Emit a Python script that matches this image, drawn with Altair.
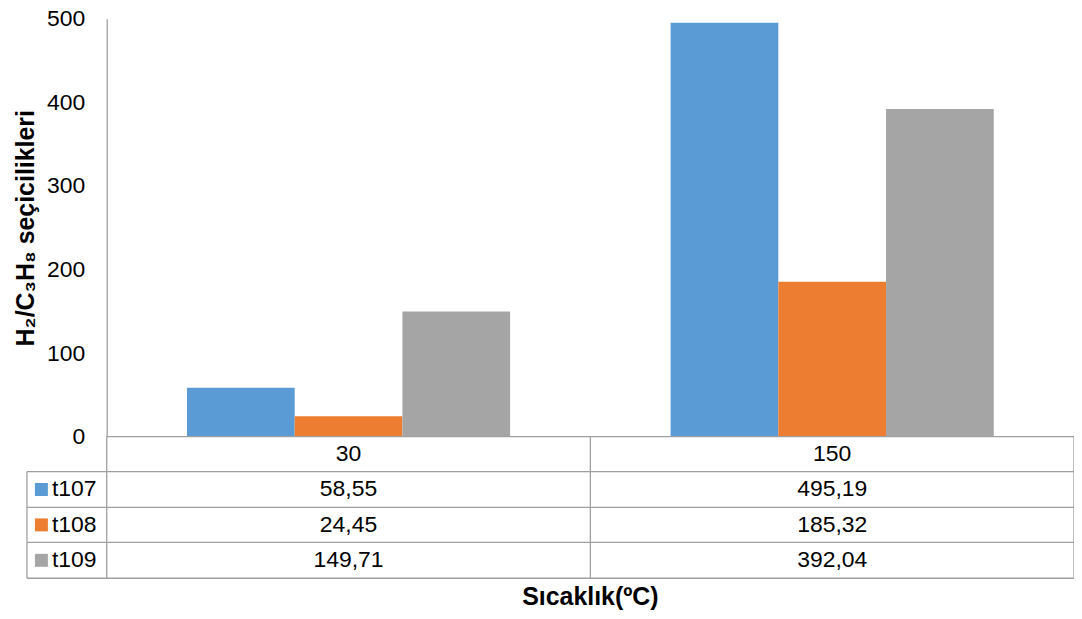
import altair as alt
import pandas as pd

# ---- data ----
categories = ["30", "150"]
series = ["t107", "t108", "t109"]
t107 = [58.55, 495.19]
t108 = [24.45, 185.32]
t109 = [149.71, 392.04]
colors = ["#5B9BD5", "#ED7D31", "#A5A5A5"]
y_ticks = [0, 100, 200, 300, 400, 500]

values = {"t107": t107, "t108": t108, "t109": t109}
rows = []
for s in series:
    for c, v in zip(categories, values[s]):
        rows.append({"cat": c, "series": s, "value": v,
                     "label": f"{v:.2f}".replace(".", ",")})
df = pd.DataFrame(rows)
hdr = pd.DataFrame({"cat": categories, "row": ["hdr"] * len(categories), "label": categories})
df_rows = df.rename(columns={"series": "row"})
legend_df = pd.DataFrame({"row": series, "series": series})

W, H = 970, 419
FONT = "Liberation Sans"
LINE = "#A0A0A0"
LW = 1.3
FS = 23

row_domain = ["hdr"] + series
row_scale = alt.Scale(type="point", domain=row_domain, range=[436.5, 543], padding=0)

xscale = alt.Scale(domain=categories, paddingInner=0, paddingOuter=0)
cscale = alt.Scale(domain=series, range=colors)

bars = alt.Chart(df).mark_bar().encode(
    x=alt.X("cat:N", sort=categories, scale=xscale, axis=None),
    xOffset=alt.XOffset("series:N", sort=series,
                        scale=alt.Scale(paddingInner=0, paddingOuter=0.745)),
    y=alt.Y("value:Q", scale=alt.Scale(domain=[0, 500], nice=False),
            axis=alt.Axis(values=y_ticks, ticks=False, grid=False,
                          domainColor=LINE, domainWidth=LW,
                          labelFontSize=FS, labelColor="#000000", labelPadding=22,
                          title="H₂/C₃H₈ seçicilikleri", titleFontSize=25,
                          titleFontWeight="bold", titleColor="#000000",
                          titlePadding=8)),
    color=alt.Color("series:N", scale=cscale, legend=None),
)

hdr_text = alt.Chart(hdr).mark_text(fontSize=FS, color="#000000", baseline="middle").encode(
    x=alt.X("cat:N", sort=categories, scale=xscale, axis=None),
    y=alt.Y("row:N", scale=row_scale, axis=None),
    text="label:N",
)

cell_text = alt.Chart(df_rows).mark_text(fontSize=FS, color="#000000", baseline="middle").encode(
    x=alt.X("cat:N", sort=categories, scale=xscale, axis=None),
    y=alt.Y("row:N", scale=row_scale, axis=None),
    text="label:N",
)

leg_sq = alt.Chart(legend_df).mark_square(size=169, opacity=1).encode(
    x=alt.value(-65.5),
    y=alt.Y("row:N", scale=row_scale, axis=None),
    color=alt.Color("series:N", scale=cscale, legend=None),
)

leg_text = alt.Chart(legend_df).mark_text(fontSize=FS, color="#000000", align="left",
                                          baseline="middle").encode(
    x=alt.value(-55),
    y=alt.Y("row:N", scale=row_scale, axis=None),
    text="row:N",
)

def hline(y, x1, x2):
    return alt.Chart().mark_rule(color=LINE, strokeWidth=LW).encode(
        x=alt.value(x1), x2=alt.value(x2), y=alt.value(y))

def vline(x, y1, y2):
    return alt.Chart().mark_rule(color=LINE, strokeWidth=LW).encode(
        x=alt.value(x), y=alt.value(y1), y2=alt.value(y2))

lines = [
    hline(H, 0, W),
    hline(454, -80, W),
    hline(490, -80, W),
    hline(525, -80, W),
    hline(561, -80, W),
    vline(-80, 454, 561),
    vline(0, H, 561),
    vline(485, H, 561),
    vline(W, H, 561),
]

xtitle = alt.Chart().mark_text(text="Sıcaklık(ºC)", fontSize=25, fontWeight="bold",
                               color="#000000", baseline="middle").encode(
    x=alt.value(W / 2), y=alt.value(580))

chart = alt.layer(
    bars, *lines, hdr_text, cell_text, leg_sq, leg_text, xtitle
).resolve_scale(y="independent").properties(
    width=W, height=H,
    autosize=alt.AutoSizeParams(type="none"),
    padding={"left": 99, "top": 10, "right": 0, "bottom": 174},
).configure(font=FONT).configure_view(stroke=None)

chart.save("out.html", embed_options={"renderer": "svg", "actions": False})
